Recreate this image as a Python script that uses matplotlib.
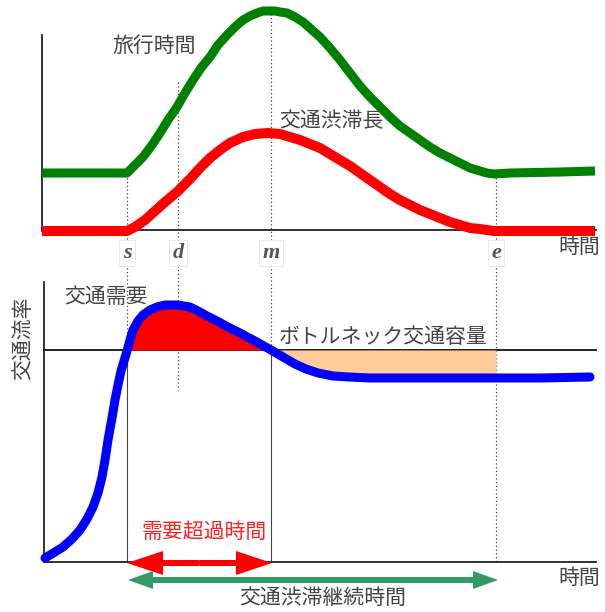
import matplotlib
matplotlib.use("Agg")
import matplotlib.pyplot as plt
import numpy as np

plt.rcParams['font.family'] = ['Noto Sans CJK JP', 'DejaVu Sans']

# ---- key time points (pixel-space positions on the time axis) ----
event_labels = ['s', 'd', 'm', 'e']
event_x = [127, 178, 271, 496]

# ---- upper panel curves ----
travel_x = [42, 127, 135, 143, 152, 160, 168, 177, 185, 193, 201, 210, 218, 227, 235,
            243, 250, 257, 263, 268, 275, 280, 287, 295, 303, 311, 320, 330, 340, 350,
            360, 370, 380, 390, 400, 410, 420, 430, 440, 450, 460, 470, 480, 487, 494,
            510, 560, 595]
travel_y = [173, 173, 165, 157, 145, 133, 120, 107, 93, 80, 68, 57, 45, 35, 27,
            20, 16, 13, 11, 11, 11, 12, 13, 17, 22, 29, 37, 48, 60, 73,
            86, 97, 107, 117, 126, 133, 140, 147, 153, 158, 163, 168, 171, 173, 174,
            173, 172, 171]

jam_x = [42, 127, 135, 145, 155, 165, 177, 190, 200, 210, 220, 230, 243, 255, 268,
         280, 290, 300, 310, 320, 330, 340, 350, 360, 370, 380, 390, 400, 410, 420,
         430, 440, 450, 460, 470, 480, 487, 494, 540, 595]
jam_y = [231, 231, 227, 220, 211, 202, 192, 179, 168, 158, 150, 143, 137, 134, 133,
         134, 137, 140, 144, 148, 154, 160, 166, 173, 180, 187, 194, 200, 205, 210,
         214, 218, 222, 225, 228, 229, 230, 231, 231, 231]

# ---- lower panel demand curve ----
demand_x = [45, 55, 63, 72, 80, 87, 93, 98, 102, 105, 108, 112, 115, 118, 121, 124,
            127, 130, 133, 138, 143, 150, 157, 165, 172, 177, 184, 190, 198, 207, 217,
            228, 240, 255, 271, 283, 295, 306, 318, 333, 349, 370, 400, 440, 496, 540,
            590]
demand_y = [558, 552, 547, 539, 530, 519, 507, 493, 477, 460, 440, 418, 400, 385, 371,
            361, 351, 340, 330, 321, 315, 310, 307, 305, 305, 305, 306, 307, 311, 316,
            321, 327, 333, 341, 350, 357, 364, 369, 373, 376, 377, 378, 378, 378, 378,
            378, 377]
capacity_y = 350

texts_color = '#444444'

fig = plt.figure(figsize=(6.05, 6.12), dpi=100)
ax = fig.add_axes([0, 0, 1, 1])
ax.set_xlim(0, 605)
ax.set_ylim(612, 0)
ax.axis('off')

# axes lines
ax.plot([42, 42], [35, 231], color='#222222', lw=1.3, zorder=2)
ax.plot([42, 596], [230, 230], color='#222222', lw=1.3, zorder=2)
ax.plot([44, 44], [282, 562], color='#222222', lw=1.3, zorder=2)
ax.plot([44, 596], [562, 562], color='#222222', lw=1.3, zorder=2)
ax.plot([44, 596], [capacity_y, capacity_y], color='#111111', lw=1.3, zorder=2)

# guide lines
dot = dict(color='#444444', lw=0.9, linestyle=(0, (1, 2)), zorder=1)
sx, dx, mx, ex = event_x
ax.plot([sx, sx], [174, capacity_y], **dot)
ax.plot([sx, sx], [capacity_y, 562], color='#444444', lw=0.8, zorder=1)
ax.plot([dx, dx], [82, 390], **dot)
ax.plot([mx, mx], [10, capacity_y], **dot)
ax.plot([mx, mx], [capacity_y, 562], color='#444444', lw=0.8, zorder=1)
ax.plot([ex, ex], [174, 562], **dot)

# fills
bx = np.array(demand_x, dtype=float)
by = np.array(demand_y, dtype=float)
ax.fill_between(bx, by, capacity_y, where=(bx >= sx) & (bx <= mx), color='#ff0000',
                lw=0, zorder=3)
ax.fill_between(bx, capacity_y, by, where=(bx >= mx) & (bx <= ex), color='#ffcc99',
                lw=0, zorder=3)

# curves
ax.plot(travel_x, travel_y, color='#008000', lw=6.5, solid_capstyle='butt',
        solid_joinstyle='round', zorder=4)
ax.plot(jam_x, jam_y, color='#ff0000', lw=7.2, solid_capstyle='butt',
        solid_joinstyle='round', zorder=4)
ax.plot(demand_x, demand_y, color='#0000ff', lw=6.5, solid_capstyle='round',
        solid_joinstyle='round', zorder=5)

# event labels
for lab, x in zip(event_labels, event_x):
    ax.text(x, 253, lab, family='Liberation Serif', style='italic', fontweight='bold',
            fontsize=16, color='#555555', ha='center', va='center', zorder=6,
            bbox=dict(boxstyle='square,pad=0.15', fc='white', ec='#e6e6e6', lw=0.6))

# texts
ax.text(112, 46, '旅行時間', fontsize=15, color=texts_color, ha='left', va='center')
ax.text(279, 121, '交通渋滞長', fontsize=15, color=texts_color, ha='left', va='center')
ax.text(558, 247, '時間', fontsize=15, color=texts_color, ha='left', va='center')
ax.text(64, 297, '交通需要', fontsize=15, color=texts_color, ha='left', va='center')
ax.text(279, 337, 'ボトルネック交通容量', fontsize=15, color=texts_color, ha='left',
        va='center')
ax.text(23, 338, '交通流率', fontsize=15, color=texts_color, ha='center', va='center',
        rotation=90)
ax.text(558, 578, '時間', fontsize=15, color=texts_color, ha='left', va='center')
ax.text(204, 532, '需要超過時間', fontsize=15, color='#ff2020', ha='center', va='center')
ax.text(323, 598, '交通渋滞継続時間', fontsize=15, color=texts_color, ha='center',
        va='center')

# arrows (double-headed: two halves from the middle)
def double_arrow(x0, x1, y, color, width, head_w, head_l):
    xm = (x0 + x1) / 2.0
    for a, b in ((xm, x0), (xm, x1)):
        ax.arrow(a, y, b - a, 0, width=width, head_width=head_w, head_length=head_l,
                 length_includes_head=True, color=color, lw=0, zorder=6)

double_arrow(sx, mx + 1, 563, '#ff0000', 6, 24, 36)
double_arrow(sx + 1, ex + 2, 580, '#339966', 6, 18, 25)

fig.savefig('out.png', dpi=100)
